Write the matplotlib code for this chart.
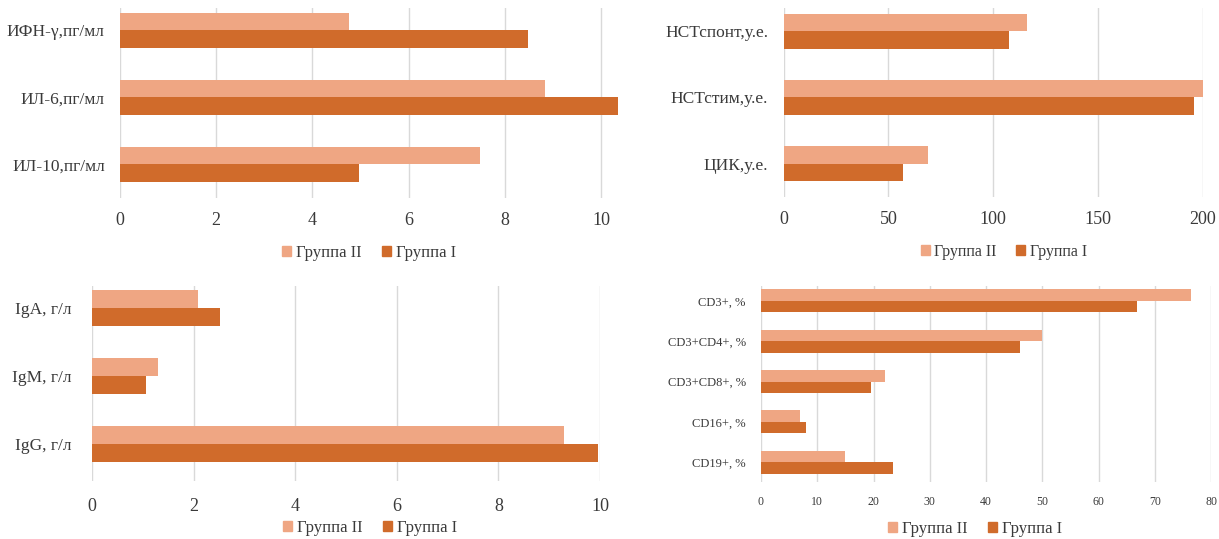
import matplotlib
matplotlib.use("Agg")
import matplotlib.pyplot as plt
from matplotlib.patches import Patch
import numpy as np

plt.rcParams['font.family'] = ['Liberation Serif', 'DejaVu Serif']

# Data (top to bottom as listed)
cyt_labels = ["ИФН-γ,пг/мл", "ИЛ-6,пг/мл", "ИЛ-10,пг/мл"]
cyt_g2 = [4.76, 8.83, 7.49]
cyt_g1 = [8.48, 10.40, 4.97]

nst_labels = ["НСТспонт,у.е.", "НСТстим,у.е.", "ЦИК,у.е."]
nst_g2 = [116, 200, 68.7]
nst_g1 = [107.5, 195.7, 56.8]

ig_labels = ["IgA, г/л", "IgM, г/л", "IgG, г/л"]
ig_g2 = [2.08, 1.29, 9.29]
ig_g1 = [2.51, 1.06, 9.97]

cd_labels = ["CD3+, %", "CD3+CD4+, %", "CD3+CD8+, %", "CD16+, %", "CD19+, %"]
cd_g2 = [76.5, 49.9, 22.0, 7.0, 14.9]
cd_g1 = [66.9, 46.0, 19.6, 8.0, 23.4]

cyt_ticks = [0, 2, 4, 6, 8, 10]
nst_ticks = [0, 50, 100, 150, 200]
ig_ticks = [0, 2, 4, 6, 8, 10]
cd_ticks = [0, 10, 20, 30, 40, 50, 60, 70, 80]

series_names = ["Группа II", "Группа I"]
c_light = "#EFA683"
c_dark = "#D06B2B"
grid_c = "#D9D9D9"
text_c = "#3A3A3A"

W, H = 1219, 539
fig = plt.figure(figsize=(W / 100, H / 100), dpi=100)


def add_axes_px(left, right, top, bottom):
    return fig.add_axes([left / W, 1 - bottom / H, (right - left) / W, (bottom - top) / H])


def panel(ax, labels, g2, g1, ticks, xlim, ylim, bh, lab_fs, tick_fs, leg_fs,
          lab_pad, tick_pad, leg_y, leg_x=0.5):
    n = len(labels)
    y = np.arange(n)[::-1].astype(float)
    ax.barh(y + bh / 2, g2, height=bh, color=c_light, zorder=2, clip_on=True)
    ax.barh(y - bh / 2, g1, height=bh, color=c_dark, zorder=2, clip_on=True)
    ax.set_xlim(*xlim)
    ax.set_ylim(*ylim)
    ax.set_xticks(ticks)
    ax.set_xticklabels([str(t) for t in ticks], fontsize=tick_fs, color=text_c)
    ax.set_yticks(y)
    ax.set_yticklabels(labels, fontsize=lab_fs, color=text_c)
    ax.tick_params(axis='both', length=0)
    ax.tick_params(axis='y', pad=lab_pad)
    ax.tick_params(axis='x', pad=tick_pad)
    for s in ax.spines.values():
        s.set_visible(False)
    ax.xaxis.grid(True, color=grid_c, lw=1.0, zorder=0)
    ax.set_axisbelow(True)
    handles = [Patch(color=c_light), Patch(color=c_dark)]
    ax.legend(handles, series_names, loc='center', bbox_to_anchor=(leg_x, leg_y),
              ncol=2, frameon=False, fontsize=leg_fs, handlelength=0.55,
              handleheight=0.55, handletextpad=0.3, columnspacing=1.2,
              labelcolor=text_c)


# Top-left: cytokines
ax1 = add_axes_px(120, 618, 8, 198)
panel(ax1, cyt_labels, cyt_g2, cyt_g1, cyt_ticks, (0, 10.35), (-0.5, 2.33), 0.26,
      12.5, 13, 12, 11, 10, -0.29, 0.5)

# Top-right: NST / CIC
ax2 = add_axes_px(783.6, 1203, 8, 197)
panel(ax2, nst_labels, nst_g2, nst_g1, nst_ticks, (0, 200), (-0.506, 2.35), 0.264,
      12.5, 13, 11.5, 11, 10, -0.29, 0.525)

# Bottom-left: immunoglobulins
ax3 = add_axes_px(92, 600, 286, 481)
panel(ax3, ig_labels, ig_g2, ig_g1, ig_ticks, (0, 10), (-0.535, 2.32), 0.264,
      12.5, 13, 12, 15, 12, -0.24, 0.547)

# Bottom-right: lymphocyte subsets
ax4 = add_axes_px(761, 1211, 286, 482)
panel(ax4, cd_labels, cd_g2, cd_g1, cd_ticks, (0, 80), (-0.49, 4.37), 0.284,
      9, 8.5, 12, 11, 10, -0.24, 0.476)

fig.savefig("out.png", dpi=100, facecolor="white")
